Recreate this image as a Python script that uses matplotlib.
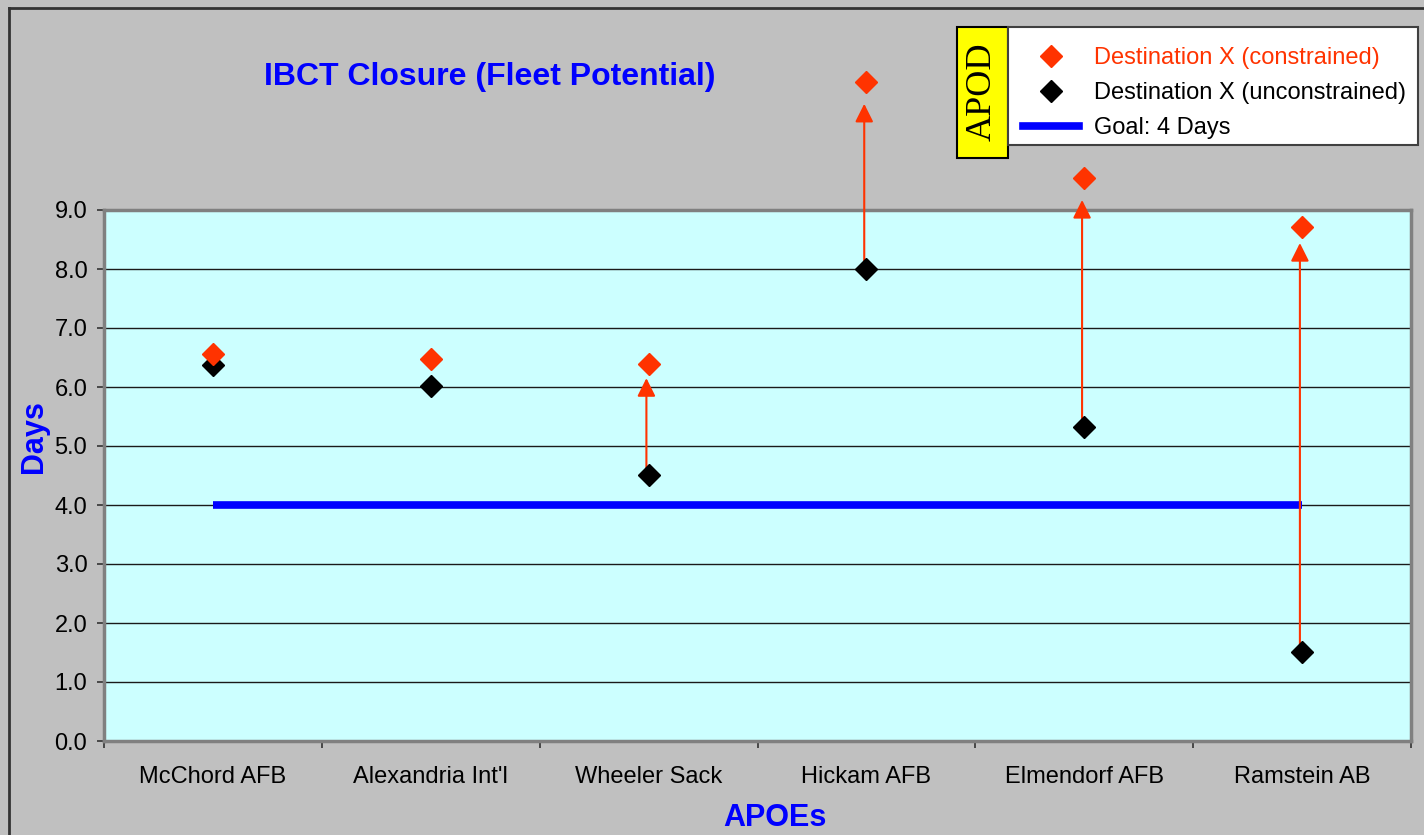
import numpy as np
import matplotlib
matplotlib.use('Agg')
import matplotlib.pyplot as plt
from matplotlib.lines import Line2D
from matplotlib.patches import Rectangle

# data
apoes = ['McChord AFB', "Alexandria Int'l", 'Wheeler Sack', 'Hickam AFB', 'Elmendorf AFB', 'Ramstein AB']
constrained = [6.56, 6.47, 6.39, 11.17, 9.54, 8.72]
unconstrained = [6.37, 6.01, 4.51, 8.00, 5.32, 1.51]
# where the hand-drawn arrows stop (None = no arrow)
arrow_tips = [None, None, 6.15, 10.80, 9.17, 8.44]
goal_days = 4.0
y_ticks = [0.0, 1.0, 2.0, 3.0, 4.0, 5.0, 6.0, 7.0, 8.0, 9.0]

red = '#FF3300'
blue = '#0000FF'

plt.rcParams['font.family'] = ['Liberation Sans', 'DejaVu Sans']

fig = plt.figure(figsize=(14.24, 8.35), dpi=100)
fig.patch.set_facecolor('#C0C0C0')
W, H = 1424.0, 835.0

ax = fig.add_axes([104 / W, 1 - 741 / H, (1411 - 104) / W, (741 - 210) / H])
ax.set_facecolor('#CCFFFF')

x = np.arange(len(apoes)) + 0.5
ax.set_xlim(0, len(apoes))
ax.set_ylim(0, 9)

# gridlines
for yv in y_ticks[1:-1]:
    ax.axhline(yv, color='#1a1a1a', lw=1.0, zorder=1)

# goal line
ax.plot([x[0], x[-1]], [goal_days, goal_days], color=blue, lw=5.5, zorder=2,
        solid_capstyle='butt')

# arrows from unconstrained up to constrained
for xi, tip, u in zip(x, arrow_tips, unconstrained):
    if tip is None:
        continue
    ax.annotate('', xy=(xi - 0.01, tip), xytext=(xi - 0.01, u),
                arrowprops=dict(arrowstyle='-|>,head_length=1.1,head_width=0.55',
                                mutation_scale=10, color=red, lw=1.5,
                                shrinkA=0, shrinkB=0),
                annotation_clip=False, zorder=3)

ax.plot(x, unconstrained, linestyle='none', marker='D', ms=11.5, color='black',
        zorder=4, clip_on=False)
ax.plot(x, constrained, linestyle='none', marker='D', ms=11, color=red,
        zorder=5, clip_on=False)

# axes styling
for s in ax.spines.values():
    s.set_color('#808080')
    s.set_linewidth(2.5)
ax.set_yticks(y_ticks)
ax.set_yticklabels(['%.1f' % v for v in y_ticks])
ax.tick_params(axis='y', labelsize=17, length=5, width=1.2, color='#333333', pad=7)
ax.set_xticks(np.arange(len(apoes) + 1))
ax.set_xticklabels([])
ax.set_xticks(x, minor=True)
ax.set_xticklabels(apoes, minor=True)
ax.tick_params(axis='x', which='major', length=5, width=1.2, color='#333333')
ax.tick_params(axis='x', which='minor', length=0, labelsize=17, pad=18)

fig.text(34 / W, 1 - 437 / H, 'Days', rotation=90, color=blue, fontsize=22,
         fontweight='bold', ha='center', va='center')
fig.text(775 / W, 1 - 818 / H, 'APOEs', color=blue, fontsize=22,
         fontweight='bold', ha='center', va='center')
fig.text(490 / W, 1 - 77 / H, 'IBCT Closure (Fleet Potential)', color=blue,
         fontsize=23, fontweight='bold', ha='center', va='center')

# figure border (left and top only visible)
fig.add_artist(Line2D([9 / W, 9 / W], [0, 1 - 8 / H], color='#333333', lw=2))
fig.add_artist(Line2D([9 / W, 1], [1 - 8 / H, 1 - 8 / H], color='#333333', lw=2))

# APOD label box
fig.add_artist(Rectangle((957 / W, 1 - 158 / H), 51 / W, 131 / H,
                         transform=fig.transFigure, facecolor='yellow',
                         edgecolor='black', lw=1.5))
fig.text(982.5 / W, 1 - 92 / H, 'APOD', rotation=90, fontsize=26,
         family=['Liberation Serif', 'DejaVu Serif'], ha='center', va='center')

# legend box
fig.add_artist(Rectangle((1008 / W, 1 - 145 / H), 410 / W, 118 / H,
                         transform=fig.transFigure, facecolor='white',
                         edgecolor='#404040', lw=1.5))
handles = [Line2D([], [], linestyle='none', marker='D', ms=11, color=red),
           Line2D([], [], linestyle='none', marker='D', ms=11, color='black'),
           Line2D([], [], color=blue, lw=5.5)]
labels = ['Destination X (constrained)', 'Destination X (unconstrained)', 'Goal: 4 Days']
leg = fig.legend(handles, labels, loc='upper left',
                 bbox_to_anchor=(1023 / W, 1 - 47 / H), fontsize=17,
                 frameon=False, borderaxespad=0, borderpad=0,
                 handlelength=2.37, handletextpad=0.64, labelspacing=0.56)
leg.get_texts()[0].set_color(red)

fig.savefig('out.png', dpi=100, facecolor=fig.get_facecolor())
